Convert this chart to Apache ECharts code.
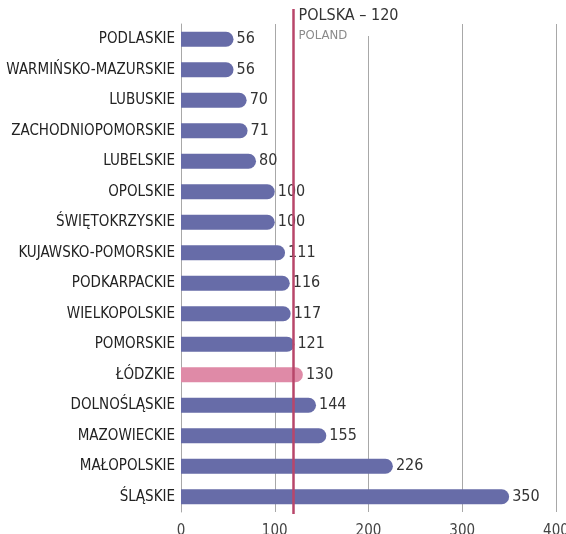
<!DOCTYPE html>
<html>
<head>
<meta charset="utf-8">
<script src="https://cdn.jsdelivr.net/npm/echarts@6/dist/echarts.min.js"></script>
<style>
  html, body { margin: 0; padding: 0; background: #fff; }
  #chart { width: 566px; height: 534px; }
</style>
</head>
<body>
<div id="chart"></div>
<script>
// Voivodeships, top to bottom
const regions = [
  'PODLASKIE', 'WARMIŃSKO-MAZURSKIE', 'LUBUSKIE', 'ZACHODNIOPOMORSKIE',
  'LUBELSKIE', 'OPOLSKIE', 'ŚWIĘTOKRZYSKIE', 'KUJAWSKO-POMORSKIE',
  'PODKARPACKIE', 'WIELKOPOLSKIE', 'POMORSKIE', 'ŁÓDZKIE',
  'DOLNOŚLĄSKIE', 'MAZOWIECKIE', 'MAŁOPOLSKIE', 'ŚLĄSKIE'
];
const values = [56, 56, 70, 71, 80, 100, 100, 111, 116, 117, 121, 130, 144, 155, 226, 350];
const highlighted = 'ŁÓDZKIE';
const nationalValue = 120;
const nationalLabel = 'POLSKA – 120';
const nationalSubLabel = 'POLAND';
const xTicks = [0, 100, 200, 300, 400];

const FONT = '"Liberation Sans Narrow", "DejaVu Sans Condensed", "Arial Narrow", sans-serif';
const BLUE = '#676ca8';
const PINK = '#df8aa7';
const LINE = '#b8466a';
const GRID_L = 181, GRID_R = 10;

const chart = echarts.init(document.getElementById('chart'), null, { renderer: 'canvas' });

const option = {
  animation: false,
  backgroundColor: '#fff',
  grid: [
    { left: GRID_L, right: GRID_R, top: 24, bottom: 22, containLabel: false, outerBoundsMode: 'none' },
    { left: GRID_L, right: GRID_R, top: 9, bottom: 20, containLabel: false, outerBoundsMode: 'none' }
  ],
  xAxis: [
    {
      gridIndex: 0, type: 'value', min: xTicks[0], max: xTicks[xTicks.length - 1], interval: 100,
      axisLine: { show: false }, axisTick: { show: false },
      splitLine: { show: true, lineStyle: { color: '#a8a8a8', width: 1 } },
      axisLabel: { color: '#444', fontFamily: FONT, fontSize: 15, margin: 12 }
    },
    {
      gridIndex: 1, type: 'value', min: xTicks[0], max: xTicks[xTicks.length - 1],
      show: false
    }
  ],
  yAxis: [
    {
      gridIndex: 0, type: 'category', data: regions, inverse: true,
      axisLine: { show: true, lineStyle: { color: '#a8a8a8', width: 1 } },
      axisTick: { show: false },
      axisLabel: { color: '#222', fontFamily: FONT, fontSize: 15, margin: 6 }
    },
    { gridIndex: 1, type: 'value', min: 0, max: 1, show: false }
  ],
  series: [
    {
      type: 'bar', xAxisIndex: 0, yAxisIndex: 0,
      barWidth: 15,
      data: values.map((v, i) => ({
        value: v,
        itemStyle: { color: regions[i] === highlighted ? PINK : BLUE }
      })),
      itemStyle: { borderRadius: [0, 7.5, 7.5, 0] },
      label: {
        show: true, position: 'right', distance: 3,
        color: '#333', fontFamily: FONT, fontSize: 16
      },
      z: 3
    },
    {
      type: 'scatter', xAxisIndex: 1, yAxisIndex: 1,
      data: [[nationalValue, 0]], symbolSize: 0, silent: true,
      markLine: {
        silent: true, symbol: 'none', animation: false,
        lineStyle: { color: LINE, width: 2.5, type: 'solid' },
        label: { show: false },
        data: [{ xAxis: nationalValue }]
      },
      z: 5
    }
  ]
};
chart.setOption(option);

// National reference caption, anchored to the reference value on the axis scale
const topLeft = chart.convertToPixel({ gridIndex: 1 }, [nationalValue, 1]);
chart.setOption({
  graphic: [
    {
      type: 'rect', z: 4, silent: true,
      shape: { x: topLeft[0] + 2, y: 0, width: 80, height: 36 },
      style: { fill: '#fff' }
    },
    {
      type: 'text', z: 6, silent: true,
      x: topLeft[0] + 5, y: topLeft[1] - 1,
      style: { text: nationalLabel, fill: '#333', font: '16px ' + FONT, textVerticalAlign: 'top' }
    },
    {
      type: 'text', z: 6, silent: true,
      x: topLeft[0] + 5, y: topLeft[1] + 20,
      style: { text: nationalSubLabel, fill: '#8a8a8a', font: '13px ' + FONT, textVerticalAlign: 'top' }
    }
  ]
});
</script>
</body>
</html>
